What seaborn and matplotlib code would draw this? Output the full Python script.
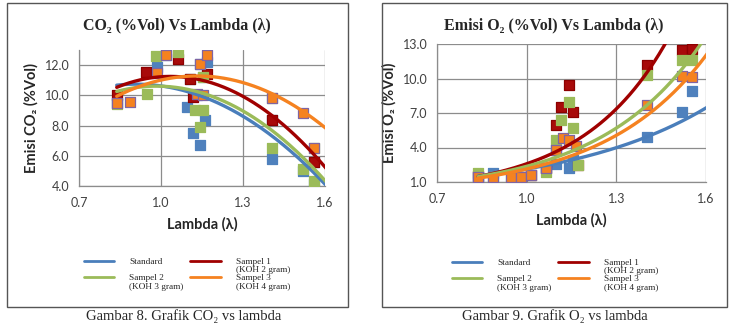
import numpy as np
import pandas as pd
import matplotlib
matplotlib.use('Agg')
import matplotlib.pyplot as plt
import seaborn as sns
from matplotlib.patches import Rectangle
from matplotlib.lines import Line2D
from matplotlib.legend_handler import HandlerLine2D

# series labels and colours (Excel office palette)
names = ['Standard\n', 'Sampel 1\n(KOH 2 gram)', 'Sampel 2\n(KOH 3 gram)', 'Sampel 3\n(KOH 4 gram)']
marker_colors = ['#4F81BD', '#A80A0A', '#9BBB59', '#F5821F']
marker_edges = ['#4F81BD', '#8C0000', '#9BBB59', '#8064A2']
line_colors = ['#4A7EBB', '#A00000', '#9BBB59', '#F58220']

# ---- CO2 data (lambda, %Vol); points past 1.6 are cut off by the axis ----
lam_co2_std = [0.838, 0.984, 1.018, 1.094, 1.106, 1.118, 1.13, 1.143, 1.143, 1.154, 1.161, 1.167,
               1.405, 1.405, 1.521, 1.558, 1.558, 1.65]
co2_std = [9.5, 11.9, 12.7, 9.2, 11.1, 7.5, 10.0, 6.7, 12.1, 11.2, 8.4, 12.2,
           5.8, 8.4, 5.0, 4.1, 5.6, 3.8]
lam_co2_s1 = [0.838, 0.945, 1.063, 1.106, 1.117, 1.167, 1.405, 1.558, 1.65]
co2_s1 = [10.0, 11.55, 12.4, 11.1, 9.9, 11.4, 8.4, 5.6, 4.66]
lam_co2_s2 = [0.838, 0.948, 0.98, 1.063, 1.124, 1.143, 1.154, 1.154, 1.405, 1.405, 1.521,
              1.558, 1.558, 1.65]
co2_s2 = [9.4, 10.1, 12.6, 12.9, 9.0, 7.9, 9.0, 11.2, 6.5, 9.8, 5.1,
          4.3, 6.5, 3.3]
lam_co2_s3 = [0.838, 0.887, 0.984, 1.018, 1.13, 1.143, 1.155, 1.167, 1.405, 1.521, 1.558, 1.65]
co2_s3 = [9.46, 9.56, 11.5, 12.7, 10.1, 12.1, 10.0, 12.7, 9.8, 8.8, 6.5, 8.78]

# ---- O2 data (lambda, %Vol) ----
lam_o2_std = [0.838, 0.888, 1.066, 1.099, 1.099, 1.143, 1.154, 1.404, 1.521, 1.554, 1.65]
o2_std = [1.4, 1.76, 2.2, 2.6, 3.8, 2.2, 2.9, 4.9, 7.1, 8.9, 6.0]
lam_o2_s1 = [0.838, 0.982, 1.016, 1.066, 1.099, 1.116, 1.141, 1.154, 1.171, 1.404, 1.521, 1.554, 1.65]
o2_s1 = [1.5, 1.4, 1.6, 2.2, 5.96, 7.55, 9.4, 7.1, 2.5, 11.2, 12.5, 12.6, 30.0]
lam_o2_s2 = [0.838, 0.888, 0.949, 0.982, 1.016, 1.066, 1.099, 1.116, 1.141, 1.154, 1.171,
             1.404, 1.521, 1.554, 1.65]
o2_s2 = [1.8, 1.4, 1.46, 1.4, 1.6, 1.9, 4.65, 6.4, 8.0, 5.7, 2.5,
         10.3, 11.6, 11.6, 9.5]
lam_o2_s3 = [0.838, 0.888, 0.949, 0.982, 1.016, 1.066, 1.099, 1.121, 1.143, 1.166,
             1.404, 1.521, 1.554, 1.65]
o2_s3 = [1.46, 1.4, 1.46, 1.4, 1.6, 2.2, 3.8, 4.8, 4.65, 4.1,
         7.7, 10.2, 10.1, 9.8]

x_ticks = [0.7, 1.0, 1.3, 1.6]
co2_ticks = [4, 6, 8, 10, 12]
o2_ticks = [1, 4, 7, 10, 13]

sans = ['Lato', 'DejaVu Sans']
serif = ['Liberation Serif', 'DejaVu Serif']


class TopLine(HandlerLine2D):
    # put the legend line next to the first line of a two-line label
    def create_artists(self, legend, orig_handle, xdescent, ydescent, width, height, fontsize, trans):
        arts = super().create_artists(legend, orig_handle, xdescent, ydescent, width, height, fontsize, trans)
        for a in arts:
            a.set_ydata(np.asarray(a.get_ydata()) + 0.55 * fontsize)
        return arts


def make_df(lams, vals):
    frames = []
    for name, lam, val in zip(names, lams, vals):
        frames.append(pd.DataFrame({'lambda': lam, 'value': val, 'series': name}))
    return pd.concat(frames, ignore_index=True)


def trend(x, y, kind):
    # excel style trendline: 2nd order polynomial or exponential
    xs = np.linspace(min(x), max(x), 150)
    if kind == 'poly':
        c = np.polyfit(x, y, 2)
        return xs, np.polyval(c, xs)
    c = np.polyfit(x, np.log(y), 1)
    return xs, np.exp(np.polyval(c, xs))


def panel(ax, df, kind, ylim, yticks, ylabel, leg_xy):
    for i, name in enumerate(names):
        sub = df[df['series'] == name]
        sns.scatterplot(data=sub, x='lambda', y='value', ax=ax, marker='s', s=62,
                        color=marker_colors[i], edgecolor=marker_edges[i], linewidth=0.9,
                        legend=False, zorder=3 + i)
    for i, name in enumerate(names):
        sub = df[df['series'] == name]
        xs, ys = trend(sub['lambda'].values, sub['value'].values, kind)
        ax.plot(xs, ys, color=line_colors[i], linewidth=2.4, zorder=10 + i)

    ax.set_xlim(0.7, 1.6)
    ax.set_ylim(*ylim)
    ax.set_xticks(x_ticks)
    ax.set_yticks(yticks)
    ax.xaxis.set_major_formatter(matplotlib.ticker.FormatStrFormatter('%.1f'))
    ax.yaxis.set_major_formatter(matplotlib.ticker.FormatStrFormatter('%.1f'))
    ax.tick_params(length=0, labelsize=9, labelcolor='#404040')
    ax.tick_params(axis='x', pad=8)
    ax.tick_params(axis='y', pad=7)
    for lab in ax.get_xticklabels() + ax.get_yticklabels():
        lab.set_family(sans)
    ax.grid(True, color='#8C8C8C', linewidth=0.9)
    ax.set_axisbelow(True)
    for side in ['top', 'right']:
        ax.spines[side].set_visible(False)
    for side in ['left', 'bottom']:
        ax.spines[side].set_color('#8C8C8C')
        ax.spines[side].set_linewidth(0.9)
    ax.set_xlabel('Lambda (λ)', family=sans, fontweight='bold', fontsize=10.5, labelpad=6)
    ax.set_ylabel(ylabel, family=sans, fontweight='bold', fontsize=10.5, labelpad=4)

    handles = [Line2D([], [], color=line_colors[i], linewidth=2) for i in range(4)]
    order = [0, 2, 1, 3]
    leg = ax.legend([handles[k] for k in order], [names[k] for k in order], ncol=2,
                    loc='upper left', bbox_to_anchor=leg_xy, bbox_transform=ax.figure.transFigure,
                    frameon=False, prop={'family': serif, 'size': 6.7}, handlelength=3.3,
                    handletextpad=1.6, columnspacing=0.7, labelspacing=0.0, borderpad=0,
                    handler_map={Line2D: TopLine()})
    for t in leg.get_texts():
        t.set_linespacing(1.1)
        t.set_multialignment('left')
    return leg


sns.set_style('white')
fig = plt.figure(figsize=(7.31, 3.27), dpi=100)

# outer frames of the two chart boxes
fig.patches.append(Rectangle((7 / 731, 1 - 307 / 327), 341 / 731, 304 / 327,
                             transform=fig.transFigure, fill=False, edgecolor='#555555', linewidth=1.0))
fig.patches.append(Rectangle((382 / 731, 1 - 307 / 327), 345 / 731, 304 / 327,
                             transform=fig.transFigure, fill=False, edgecolor='#555555', linewidth=1.0))

ax1 = fig.add_axes([79 / 731, 1 - 186 / 327, 246 / 731, 136 / 327])
ax2 = fig.add_axes([437 / 731, 1 - 182 / 327, 269 / 731, 138 / 327])

df_co2 = make_df([lam_co2_std, lam_co2_s1, lam_co2_s2, lam_co2_s3], [co2_std, co2_s1, co2_s2, co2_s3])
df_o2 = make_df([lam_o2_std, lam_o2_s1, lam_o2_s2, lam_o2_s3], [o2_std, o2_s1, o2_s2, o2_s3])

panel(ax1, df_co2, 'poly', (4, 13), co2_ticks, 'Emisi CO₂ (%Vol)', (79 / 731, 1 - 253 / 327))
panel(ax2, df_o2, 'exp', (1, 13), o2_ticks, 'Emisi O₂ (%Vol)', (447 / 731, 1 - 254 / 327))

fig.text(177 / 731, 1 - 25 / 327, 'CO₂ (%Vol) Vs Lambda (λ)', family=serif, fontweight='bold',
         fontsize=11.5, ha='center', va='center')
fig.text(554 / 731, 1 - 25 / 327, 'Emisi O₂ (%Vol) Vs Lambda (λ)', family=serif, fontweight='bold',
         fontsize=11.5, ha='center', va='center')

fig.text(184 / 731, 1 - 316 / 327, 'Gambar 8. Grafik CO₂ vs lambda', family=serif,
         fontsize=10.5, ha='center', va='center')
fig.text(555 / 731, 1 - 316 / 327, 'Gambar 9. Grafik O₂ vs lambda', family=serif,
         fontsize=10.5, ha='center', va='center')

fig.savefig('out.png', dpi=100)
